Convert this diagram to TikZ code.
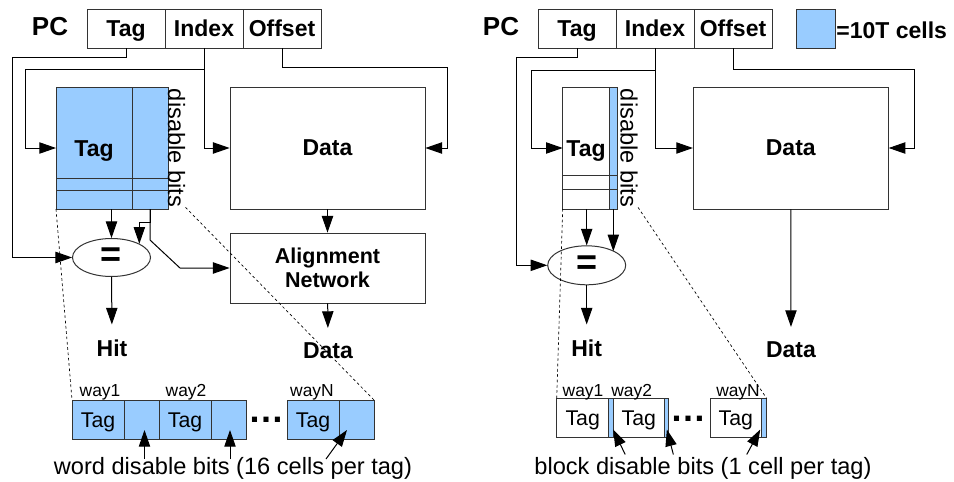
\documentclass[tikz,border=0pt]{standalone}
\usepackage{fontspec}
\setmainfont{Liberation Sans}
\usepackage{tikz}
\usetikzlibrary{shapes.geometric, arrows.meta, positioning, calc}
\definecolor{cellblue}{HTML}{99CCFF}

\begin{document}
\begin{tikzpicture}[x=0.75pt, y=-0.75pt, line width=0.75pt, every node/.style={scale=0.75}]
\tikzstyle{field} = [rectangle, draw=black!80, minimum width=78pt, minimum height=39pt, inner sep=0pt, outer sep=0pt, text height=16.5pt, text depth=0pt, font=\fontsize{23}{27}\selectfont\bfseries]
\tikzstyle{array} = [rectangle, draw=black!80, minimum height=122pt, inner sep=0pt, outer sep=0pt, text height=16.5pt, text depth=0pt, font=\fontsize{23}{27}\selectfont\bfseries]
\tikzstyle{block} = [rectangle, draw=black!80, minimum width=195pt, inner sep=0pt, align=center, font=\fontsize{23}{27}\selectfont\bfseries]
\tikzstyle{cmp} = [ellipse, draw=black!80, minimum width=78pt, minimum height=38pt, inner sep=0pt, font=\fontsize{36}{36}\selectfont\bfseries]
\tikzstyle{way} = [rectangle, draw=black!80, minimum height=39pt, inner sep=0pt, outer sep=0pt, text height=15.3pt, text depth=0pt, font=\fontsize{21.3}{24}\selectfont]
\tikzstyle{result} = [inner sep=0pt, font=\fontsize{23}{27}\selectfont\bfseries]
\tikzstyle{waylbl} = [inner sep=0pt, font=\fontsize{17.4}{20}\selectfont]
\tikzstyle{note} = [inner sep=0pt, font=\fontsize{23.6}{27}\selectfont]
\tikzstyle{more} = [inner sep=0pt, font=\fontsize{36}{36}\selectfont\bfseries]
\tikzstyle{arrow} = [->, >={Triangle[length=12.5pt, width=8.5pt]}]
\tikzstyle{zoomline} = [dash pattern=on 2pt off 2pt, line width=0.5pt]

\useasboundingbox (0,0) rectangle (954,482);

% ---- word disable (left) ----
\node (pcL) [result, font=\fontsize{26}{30}\selectfont\bfseries] at (50,27) {PC};
\node (tagfL) [field] at (126,28.5) {Tag};
\node (idxfL) [field, right=0pt of tagfL] {Index};
\node (offL) [field, right=0pt of idxfL] {Offset};

\node (tagL) [array, fill=cellblue, minimum width=76pt] at (94,148) {Tag};
\node (bitsL) [array, fill=cellblue, minimum width=36pt, right=0pt of tagL] {};
\draw [draw=black!80] ($(tagL.south west)+(0,-31)$) -- ($(bitsL.south east)+(0,-31)$);
\draw [draw=black!80] ($(tagL.south west)+(0,-19)$) -- ($(bitsL.south east)+(0,-19)$);
\node (disL) [note, rotate=-90] at (176.5,148) {disable bits};

\node (dataL) [block, minimum height=122pt] at (327.5,148) {Data};
\node (anL) [block, minimum height=70pt, font=\fontsize{21.5}{23.5}\selectfont\bfseries] at (327.5,268) {Alignment\\Network};
\node (eqL) [cmp] at (111.5,257.5) {=};
\node (hitL) [result] at (112,348) {Hit};
\node (doutL) [result] at (328,351) {Data};

\node (w1tL) [way, fill=cellblue, minimum width=52pt] at (98,419.5) {Tag};
\node (w1bL) [way, fill=cellblue, minimum width=35pt, right=0pt of w1tL] {};
\node (w2tL) [way, fill=cellblue, minimum width=52pt, right=0pt of w1bL] {Tag};
\node (w2bL) [way, fill=cellblue, minimum width=35pt, right=0pt of w2tL] {};
\node (moreL) [more] at (266,420) {…};
\node (wNtL) [way, fill=cellblue, minimum width=52pt] at (313,419.5) {Tag};
\node (wNbL) [way, fill=cellblue, minimum width=35pt, right=0pt of wNtL] {};
\node (way1L) [waylbl] at (100,392) {way1};
\node (way2L) [waylbl] at (186,392) {way2};
\node (wayNL) [waylbl] at (312,392) {wayN};
\node (capL) [note] at (233,468) {word disable bits (16 cells per tag)};

\draw [arrow] (tagfL.south) |- ++(-114,9) |- (eqL.west);
\draw [arrow] (idxfL.south) |- ++(-179,21) |- (tagL.west);
\draw [arrow] (idxfL.south) |- (dataL.west);
\draw [arrow] (offL.south) |- ++(165.5,19) |- (dataL.east);
\draw [arrow] (dataL) -- (anL);
\draw [arrow, shorten >=11pt] (anL) -- (doutL);
\draw [arrow] (eqL |- tagL.south) -- (eqL.north);
\draw [arrow] (bitsL.south) -- ++(0,13) -| (eqL.north east);
\draw [arrow] (bitsL.south) -- ++(0,31) -- ++(30,28) -- (anL.west);
\draw [arrow, shorten >=11pt] (eqL) -- (hitL);
\draw [zoomline] (tagL.south west) -- (w1tL.north west);
\draw [zoomline] (disL.north east) -- (wNbL.north east);
\draw [arrow] ($(w1bL.south)+(3,20)$) -- ($(w1bL.south)+(3,-9)$);
\draw [arrow] ($(w2bL.south)+(1.5,20)$) -- ($(w2bL.south)+(1.5,-9)$);
\draw [arrow] ($(wNbL.south)+(-30.5,20)$) -- ($(wNbL.south)+(-9.5,-9)$);

% ---- block disable (right) ----
\node (pcR) [result, font=\fontsize{26}{30}\selectfont\bfseries] at (501,27) {PC};
\node (tagfR) [field] at (577,28.5) {Tag};
\node (idxfR) [field, right=0pt of tagfR] {Index};
\node (offR) [field, right=0pt of idxfR] {Offset};
\node (legend) [rectangle, draw=black!80, fill=cellblue, minimum width=39pt, minimum height=39pt, inner sep=0pt] at (815.5,28.5) {};
\node (legendtxt) [result, anchor=west] at (836,30) {=10T cells};

\node (tagR) [array, minimum width=46.6pt] at (586,148) {Tag};
\node (bitsR) [array, fill=cellblue, minimum width=8pt, right=0pt of tagR] {};
\draw [draw=black!80] ($(tagR.south west)+(0,-34)$) -- ($(bitsR.south east)+(0,-34)$);
\draw [draw=black!80] ($(tagR.south west)+(0,-20)$) -- ($(bitsR.south east)+(0,-20)$);
\node (disR) [note, rotate=-90] at (629,148) {disable bits};

\node (dataR) [block, minimum height=122pt] at (790.8,148) {Data};
\node (eqR) [cmp, minimum height=39pt] at (586.7,265.3) {=};
\node (hitR) [result] at (586.7,348) {Hit};
\node (doutR) [result] at (791,350) {Data};

\node (w1tR) [way, minimum width=52pt] at (582.7,418) {Tag};
\node (w1bR) [way, fill=cellblue, minimum width=5pt, right=0pt of w1tR] {};
\node (w2tR) [way, minimum width=50.3pt, right=0pt of w1bR] {Tag};
\node (w2bR) [way, fill=cellblue, minimum width=4.7pt, right=0pt of w2tR] {};
\node (moreR) [more] at (688,419) {…};
\node (wNtR) [way, minimum width=51.7pt] at (735.9,418) {Tag};
\node (wNbR) [way, fill=cellblue, minimum width=5pt, right=0pt of wNtR] {};
\node (way1R) [waylbl] at (583,392.5) {way1};
\node (way2R) [waylbl] at (631.7,392.5) {way2};
\node (wayNR) [waylbl] at (738,392.5) {wayN};
\node (capR) [note] at (703,468) {block disable bits (1 cell per tag)};

\draw [arrow] (tagfR.south) |- ++(-60.3,9) |- (eqR.west);
\draw [arrow] (idxfR.south) |- ++(-123.3,22) |- (tagR.west);
\draw [arrow] (idxfR.south) |- (dataR.west);
\draw [arrow] (offR.south) |- ++(181,21) |- (dataR.east);
\draw [arrow, shorten >=11pt] (dataR) -- (doutR);
\draw [arrow] (eqR |- tagR.south) -- (eqR.north);
\draw [arrow] (bitsR.south) -- (bitsR.south |- eqR.north east);
\draw [arrow, shorten >=11pt] (eqR) -- (hitR);
\draw [zoomline] (tagR.south west) -- (w1tR.north west);
\draw [zoomline] (disR.north east) -- (wNbR.north east);
\draw [arrow] ($(w1bR.south)+(14,17)$) -- ($(w1bR.south)+(2,-8)$);
\draw [arrow] ($(w2bR.south)+(7,17)$) -- ($(w2bR.south)+(0.5,-8)$);
\draw [arrow] ($(wNbR.south)+(-17.5,17)$) -- ($(wNbR.south)+(-4,-8)$);

\end{tikzpicture}
\end{document}
